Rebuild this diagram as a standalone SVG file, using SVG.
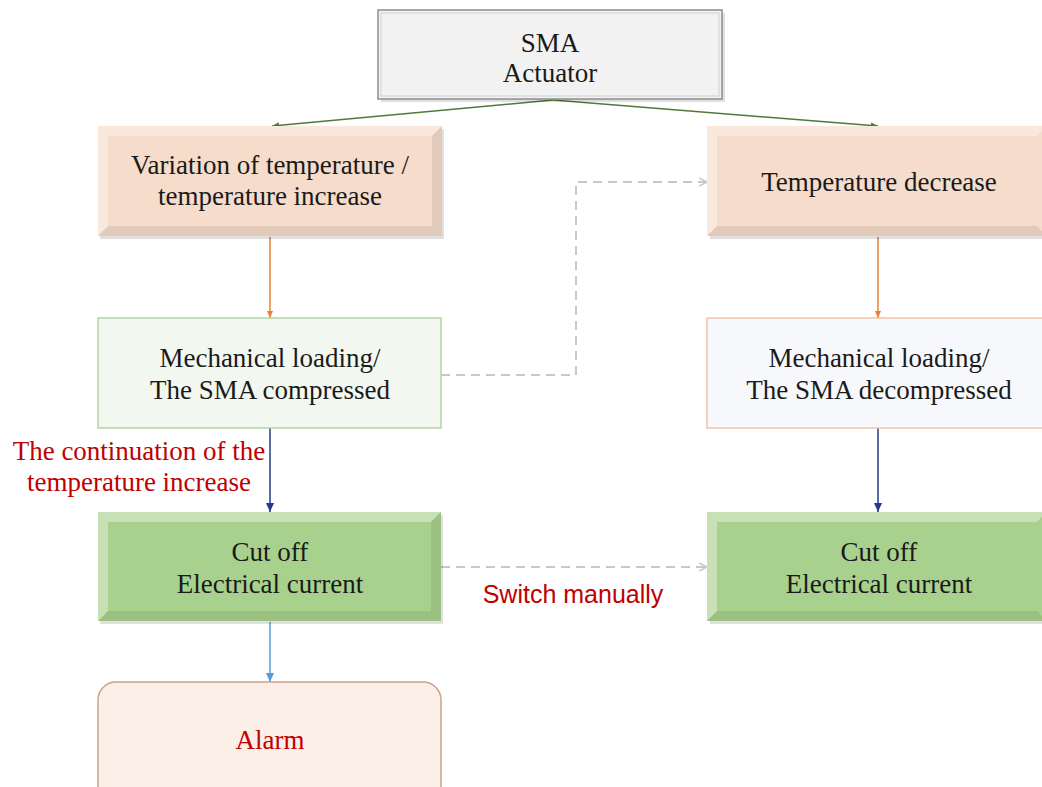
<svg xmlns="http://www.w3.org/2000/svg" width="1042" height="787" viewBox="0 0 1042 787">
<defs>
<style>
.t{font-family:"Liberation Serif","Times New Roman",serif;font-size:27px;fill:#1a1a1a;text-anchor:middle}
.r{fill:#c00000}
.s{font-family:"Liberation Sans",Arial,sans-serif;font-size:25px;fill:#c00000;text-anchor:middle}
.hl{fill:#ffffff;opacity:0.35}
.dk{fill:#000000;opacity:0.08}
.sh{fill:#000;opacity:0.12}
</style>
<marker id="ag" markerWidth="8" markerHeight="8" refX="7" refY="4" orient="auto" markerUnits="userSpaceOnUse"><path d="M0,1 L7,4 L0,7 z" fill="#4f7a3a"/></marker>
<marker id="ao" markerWidth="8" markerHeight="8" refX="7" refY="4" orient="auto" markerUnits="userSpaceOnUse"><path d="M0,1 L7,4 L0,7 z" fill="#ed7d31"/></marker>
<marker id="an" markerWidth="10" markerHeight="10" refX="9" refY="5" orient="auto" markerUnits="userSpaceOnUse"><path d="M0,1 L9,5 L0,9 z" fill="#1f3c88"/></marker>
<marker id="ab" markerWidth="10" markerHeight="10" refX="9" refY="5" orient="auto" markerUnits="userSpaceOnUse"><path d="M0,1 L9,5 L0,9 z" fill="#5b9bd5"/></marker>
<marker id="ay" markerWidth="10" markerHeight="10" refX="8" refY="5" orient="auto" markerUnits="userSpaceOnUse"><path d="M0,1 L8,5 L0,9" fill="none" stroke="#c8c8c8" stroke-width="1.5"/></marker>
</defs>
<rect width="1042" height="787" fill="#ffffff"/>

<g id="connectors" fill="none">
<path d="M553,100 L272,126" stroke="#4f7a3a" stroke-width="1.5" marker-end="url(#ag)"/>
<path d="M553,100 L878,126" stroke="#4f7a3a" stroke-width="1.5" marker-end="url(#ag)"/>
<path d="M270,237 L270,318" stroke="#ed7d31" stroke-width="1.5" marker-end="url(#ao)"/>
<path d="M878,237 L878,318" stroke="#ed7d31" stroke-width="1.5" marker-end="url(#ao)"/>
<path d="M441,375 L576,375 L576,182 L707,182" stroke="#c8c8c8" stroke-width="2" stroke-dasharray="9,6" marker-end="url(#ay)"/>
<path d="M270,428 L270,512" stroke="#1f3c88" stroke-width="1.5" marker-end="url(#an)"/>
<path d="M878,428 L878,512" stroke="#1f3c88" stroke-width="1.5" marker-end="url(#an)"/>
<path d="M441,567 L707,567" stroke="#c8c8c8" stroke-width="2" stroke-dasharray="9,6" marker-end="url(#ay)"/>
<path d="M270,622 L270,682" stroke="#5b9bd5" stroke-width="1.5" marker-end="url(#ab)"/>
</g>

<g id="sma">
<rect x="381" y="13" width="344" height="89" class="sh"/>
<rect x="378" y="10" width="344" height="89" fill="#f2f2f2" stroke="#8c8c8c" stroke-width="1.5"/>
<rect x="381" y="13" width="338" height="83" fill="none" stroke="#d0d0d0" stroke-width="1"/>
<text class="t" x="550" y="52">SMA</text>
<text class="t" x="550" y="82">Actuator</text>
</g>

<g id="var">
<rect x="100" y="129" width="344" height="110" class="sh"/>
<rect x="98" y="126" width="344" height="110" fill="#f6dcca"/>
<polygon points="98,126 442,126 432,136 108,136" class="hl"/>
<polygon points="98,126 108,136 108,226 98,236" class="hl" opacity="0.2"/>
<polygon points="442,126 442,236 432,226 432,136" class="dk"/>
<polygon points="98,236 442,236 432,226 108,226" class="dk" opacity="0.12"/>
<text class="t" x="270" y="174">Variation of temperature /</text>
<text class="t" x="270" y="205">temperature increase</text>
</g>

<g id="dec">
<rect x="710" y="129" width="340" height="110" class="sh"/>
<rect x="707" y="126" width="340" height="110" fill="#f6dcca"/>
<polygon points="707,126 1047,126 1037,136 717,136" class="hl"/>
<polygon points="707,126 717,136 717,226 707,236" class="hl" opacity="0.2"/>
<polygon points="707,236 1047,236 1037,226 717,226" class="dk" opacity="0.12"/>
<text class="t" x="879" y="191">Temperature decrease</text>
</g>

<g id="mech1">
<rect x="98" y="318" width="343" height="110" fill="#f2f7ef" stroke="#b5d3a5" stroke-width="1.5"/>
<text class="t" x="270" y="367">Mechanical loading/</text>
<text class="t" x="270" y="399">The SMA compressed</text>
</g>

<g id="mech2">
<rect x="707" y="318" width="340" height="110" fill="#f7f8fc" stroke="#f2c4a4" stroke-width="1.5"/>
<text class="t" x="879" y="367">Mechanical loading/</text>
<text class="t" x="879" y="399">The SMA decompressed</text>
</g>

<g id="cont">
<text class="t r" x="139" y="460">The continuation of the</text>
<text class="t r" x="139" y="491">temperature increase</text>
</g>

<g id="cut1">
<rect x="100" y="515" width="343" height="109" class="sh"/>
<rect x="98" y="512" width="343" height="109" fill="#a9d18e"/>
<polygon points="98,512 441,512 431,522 108,522" class="hl"/>
<polygon points="98,512 108,522 108,611 98,621" class="hl" opacity="0.2"/>
<polygon points="441,512 441,621 431,611 431,522" class="dk"/>
<polygon points="98,621 441,621 431,611 108,611" class="dk" opacity="0.12"/>
<text class="t" x="270" y="561">Cut off</text>
<text class="t" x="270" y="593">Electrical current</text>
</g>

<g id="cut2">
<rect x="710" y="515" width="340" height="109" class="sh"/>
<rect x="707" y="512" width="340" height="109" fill="#a9d18e"/>
<polygon points="707,512 1047,512 1037,522 717,522" class="hl"/>
<polygon points="707,512 717,522 717,611 707,621" class="hl" opacity="0.2"/>
<polygon points="707,621 1047,621 1037,611 717,611" class="dk" opacity="0.12"/>
<text class="t" x="879" y="561">Cut off</text>
<text class="t" x="879" y="593">Electrical current</text>
</g>

<g id="switch">
<text class="s" x="573" y="603">Switch manually</text>
</g>

<g id="alarm">
<rect x="98" y="682" width="343" height="130" rx="18" fill="#fbefe7" stroke="#c8a48c" stroke-width="1.5"/>
<text class="t r" x="270" y="749">Alarm</text>
</g>
</svg>
